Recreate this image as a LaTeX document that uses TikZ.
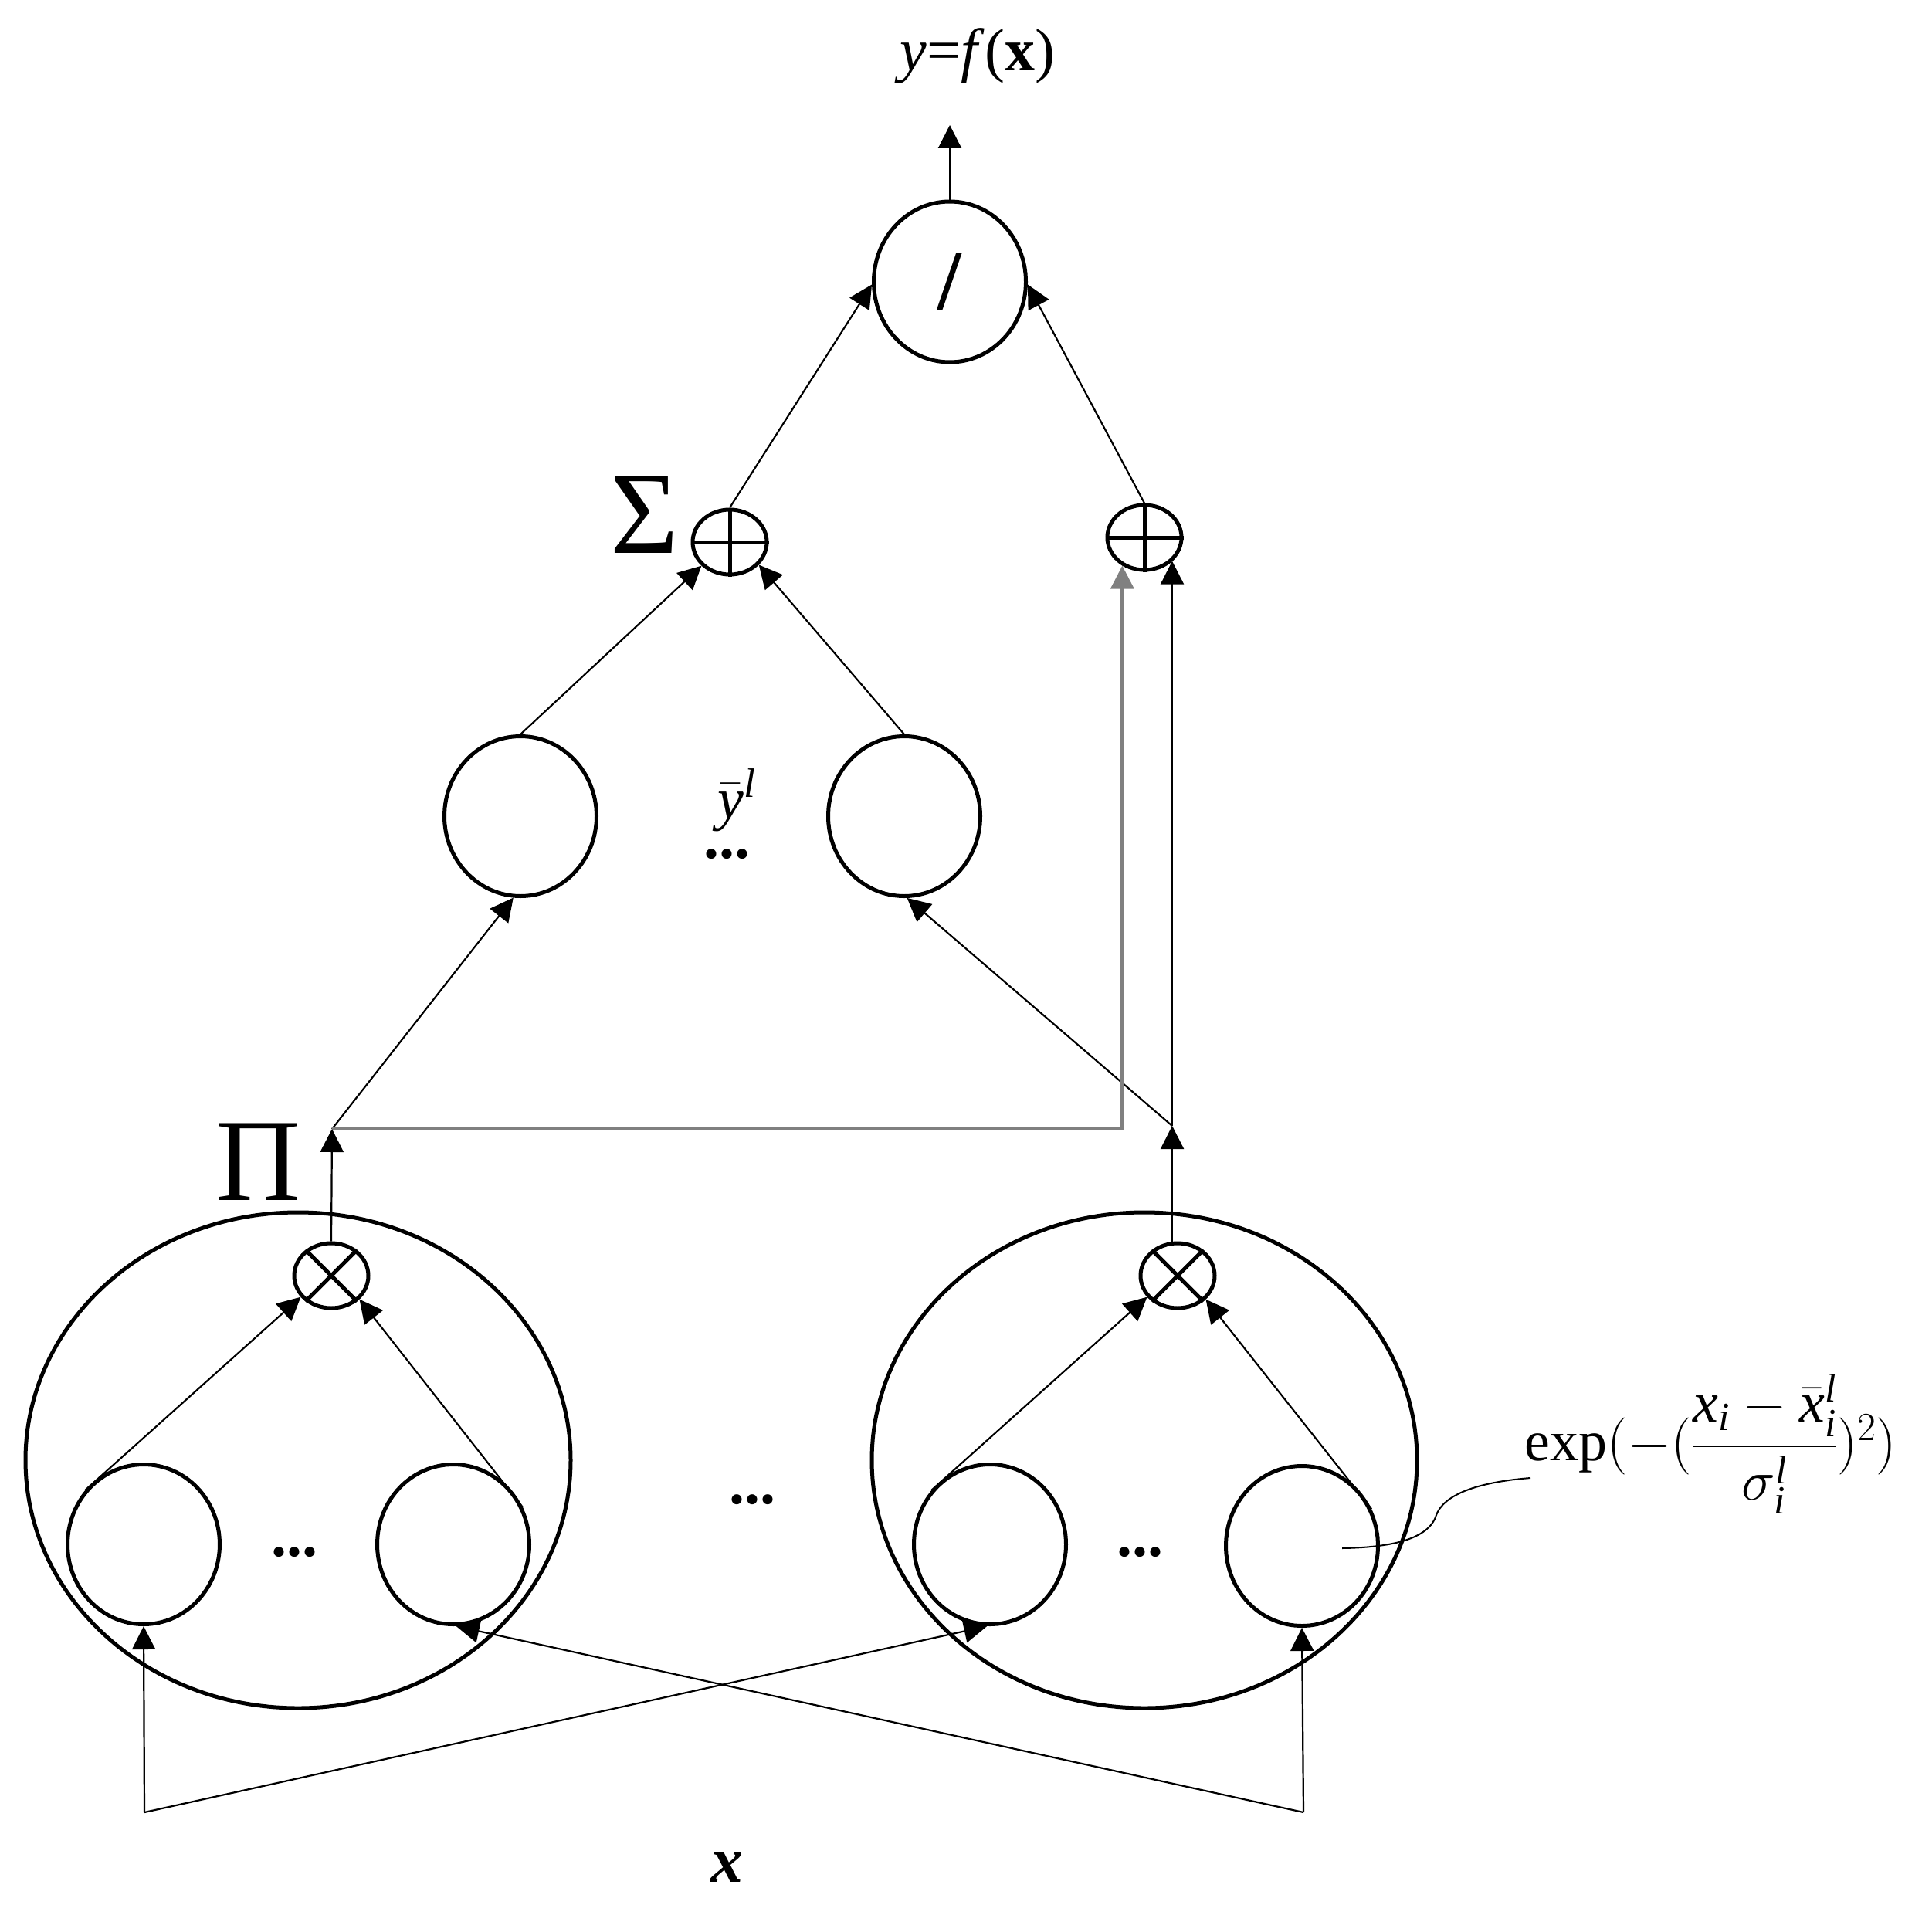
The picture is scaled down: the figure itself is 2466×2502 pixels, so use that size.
\RequirePackage{fix-cm}
\documentclass[tikz,border=0pt]{standalone}
\usepackage{amsmath}
\usepackage{fontspec}
\setmainfont{Liberation Serif}
\usetikzlibrary{shapes.geometric,arrows.meta}
\begin{document}
\begin{tikzpicture}[x=1pt,y=-1pt,
  circ/.style={draw,ellipse,line width=5pt,inner sep=0pt,minimum width=197pt,minimum height=207pt},
  opnode/.style={draw,ellipse,line width=5pt,inner sep=0pt,minimum width=96pt,minimum height=84pt},
  bigell/.style={draw,ellipse,line width=5pt,inner sep=0pt,minimum width=706pt,minimum height=642pt},
  conn/.style={line width=2.2pt,-{Triangle[length=30pt,width=30pt]}},
  grayconn/.style={line width=4pt,draw=gray,-{Triangle[length=30pt,width=30pt]}},
  txt/.style={inner sep=0pt,font=\fontsize{#1}{#1}\selectfont},
]
\useasboundingbox (0,0) rectangle (2466,2502);

% output
\node[circ,minimum height=208pt,font=\fontsize{110}{110}\selectfont\bfseries] (top) at (1230,365) {/};
\node[txt=78] (out) at (1266,72) {\textit{y}=\textit{f}(\textbf{x})};
\coordinate (outtip) at (1230,162);
\draw[conn] (top.north) -- (outtip);

% sum nodes
\node[opnode] (s1) at (945,702) {};
\draw[line width=5pt] (s1.north) -- (s1.south) (s1.west) -- (s1.east);
\node[opnode] (s2) at (1482,696) {};
\draw[line width=5pt] (s2.north) -- (s2.south) (s2.west) -- (s2.east);
\node[txt=152] (sigma) at (835,667) {Σ};

\draw[conn] (s1.north) -- (top.182);
\draw[conn] (s2.north) -- (top.-2);

% consequent nodes
\node[circ] (m1) at (674,1057) {};
\node[circ] (m2) at (1171,1057) {};
\node[txt=76] (ybar) at (954,1036) {$\bar{\textit{y}}^{\textit{l}}$};
\node[txt=80] (dots1) at (941,1106) {\textbf{...}};

\draw[conn] (m1.north) -- (s1.-140);
\draw[conn] (m2.north) -- (s1.-38);

% product layer
\coordinate (p1) at (430,1462);
\coordinate (p2) at (1518,1458);
\node[txt=152] (pi) at (334,1505) {Π};

\draw[conn] (p1) -- (m1.-95);
\draw[conn] (p2) -- (m2.-88);
\draw[grayconn] (p1) -| (s2.-128);
\draw[conn] (p2) -- (p2 |- s2.-40);

% rule blocks
\node[bigell] (e1) at (386,1891) {};
\node[bigell] (e2) at (1482,1891) {};
\node[opnode] (o1) at (429,1652) {};
\draw[line width=5pt] (o1.45) -- (o1.-135) (o1.135) -- (o1.-45);
\node[opnode] (o2) at (1525,1652) {};
\draw[line width=5pt] (o2.45) -- (o2.-135) (o2.135) -- (o2.-45);
\draw[conn] (o1.north) -- (p1);
\draw[conn] (p2 |- o2.north) -- (p2);

\node[circ] (c1) at (186,2000) {};
\node[circ] (c2) at (587,2000) {};
\node[circ] (c3) at (1282,2000) {};
\node[circ] (c4) at (1686,2002) {};
\node[txt=80] (dots2) at (381,2010) {\textbf{...}};
\node[txt=80] (dots3) at (1476,2010) {\textbf{...}};
\node[txt=80] (dots4) at (974,1942) {\textbf{...}};

\draw[conn] (c1.137) -- (o1.-145);
\draw[conn] (c2.28) -- (o1.-40);
\draw[conn] (c3.137) -- (o2.-145);
\draw[conn] (c4.28) -- (o2.-40);

% inputs
\coordinate (x1) at (187,2347);
\coordinate (x2) at (1688,2347);
\node[txt=84] (xlab) at (941,2418) {\textbf{\textit{x}}};
\draw[conn] (x1) -- (c1.south);
\draw[conn] (x1) -- (c3.-92);
\draw[conn] (x2) -- (c4.south);
\draw[conn] (x2) -- (c2.-88);

% membership function label
\node[txt=74,anchor=west] (mf) at (1974,1870) {$\exp(-(\dfrac{\textit{x}_{\textit{i}}-\bar{\textit{x}}^{\textit{l}}_{\textit{i}}}{\sigma^{\textit{l}}_{\textit{i}}})^{2})$};
\coordinate (leadend) at (1982,1914);
\coordinate (leadstart) at (1738,2005);
\draw[line width=2pt] (leadstart) .. controls (1800,2004) and (1850,1994) .. (1860,1962)
  .. controls (1872,1930) and (1930,1918) .. (leadend);
\end{tikzpicture}
\end{document}
